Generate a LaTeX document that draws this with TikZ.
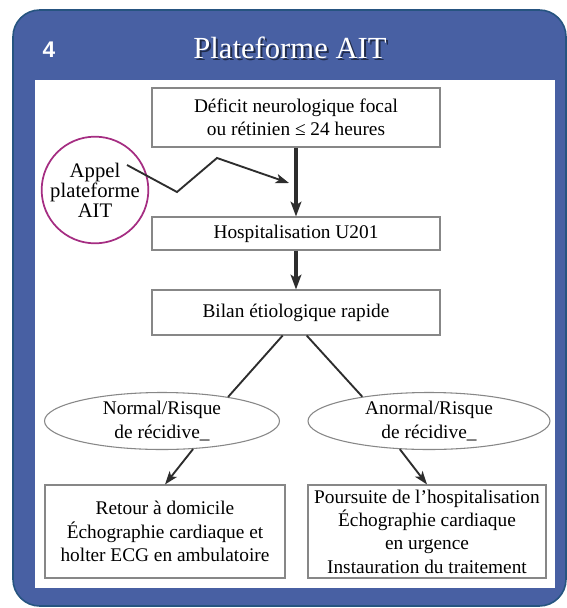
\documentclass[tikz,border=0pt]{standalone}
\usepackage{fontspec}
\setmainfont{Liberation Serif}
\newfontfamily\numfont{Liberation Sans}
\usetikzlibrary{shapes,arrows.meta,positioning,calc}

\begin{document}
\begin{tikzpicture}[x=0.75pt, y=-0.75pt,
    box/.style={draw=boxgray, fill=white, line width=0.8pt, minimum width=216pt, align=center, font=\fontsize{14.5pt}{17.5pt}\selectfont},
    oval/.style={draw=boxgray, fill=white, line width=0.8pt, ellipse, inner sep=0pt, minimum height=42.75pt, align=center, font=\fontsize{14.5pt}{17.5pt}\selectfont},
    mainarrow/.style={-{Stealth[length=11pt,width=8pt,inset=2.5pt]}, line width=2.6pt, draw=linegray},
    thinarrow/.style={-{Stealth[length=10pt,width=7pt,inset=2.5pt]}, line width=1.4pt, draw=linegray},
    titletext/.style={font=\fontsize{23pt}{26pt}\selectfont}]
                \definecolor{panelblue}{RGB}{72,96,163}
                \definecolor{panelrim}{RGB}{38,84,128}
                \definecolor{boxgray}{RGB}{135,135,135}
                \definecolor{linegray}{RGB}{45,45,45}
                \definecolor{callpink}{RGB}{165,45,130}

                \clip (0,0) rectangle (567,608);

                % Blue panel and white inner area
                \draw[fill=panelblue, draw=panelrim, line width=1.2pt, rounded corners=20pt] (13,10) rectangle (566,606);
                \fill[white] (35,80) rectangle (555,588);

                % Header
                \node[titletext, text=black, opacity=0.55] at (292,50) {Plateforme AIT};
                \node[titletext, text=white] (title) at (290,48) {Plateforme AIT};
                \node[font=\numfont\fontsize{17pt}{20pt}\selectfont\bfseries, text=white] (num) at (49,50) {4};

                % Main column
                \node[box, minimum height=44.25pt] (deficit) at (296,117.5) {Déficit neurologique focal\\ou rétinien ≤ 24 heures};
                \node[box, minimum height=24.75pt] (hospit) at (296,233.5) {Hospitalisation U201};
                \node[box, minimum height=33.75pt] (bilan) at (296,312.5) {Bilan étiologique rapide};

                % Call circle
                \node[draw=callpink, line width=1.3pt, circle, minimum size=80pt, inner sep=0pt, align=center, font=\fontsize{15.5pt}{15pt}\selectfont] (appel) at (95,190) {Appel\\plateforme\\AIT};
                \coordinate (callstart) at (127,165);
                \coordinate (callend) at (289,183);

                % Branches
                \node[oval, minimum width=176.25pt] (normal) at (162,421) {Normal/Risque\\de récidive\_};
                \node[oval, minimum width=181.5pt] (anormal) at (429,421) {Anormal/Risque\\de récidive\_};

                \node[box, minimum width=180pt, minimum height=69.75pt] (retour) at (165,531.5) {Retour à domicile\\Échographie cardiaque et\\holter ECG en ambulatoire};
                \node[box, minimum width=178.5pt, minimum height=69.75pt] (poursuite) at (427,531.5) {Poursuite de l’hospitalisation\\Échographie cardiaque\\en urgence\\Instauration du traitement};

                % Arrows
                \draw[mainarrow] (deficit.south) -- (hospit.north);
                \draw[mainarrow] (hospit.south) -- (bilan.north);
                \draw[thinarrow] (callstart) -- (177,192) -- (217,158) -- (callend);

                \draw[line width=1.4pt, draw=linegray] ([xshift=-10pt]bilan.south) -- (normal.20);
                \draw[line width=1.4pt, draw=linegray] ([xshift=8pt]bilan.south) -- (anormal.160);
                \draw[thinarrow] (normal.-42) -- (retour.north);
                \draw[thinarrow] (anormal.-136) -- (poursuite.north);
            \end{tikzpicture}
\end{document}
